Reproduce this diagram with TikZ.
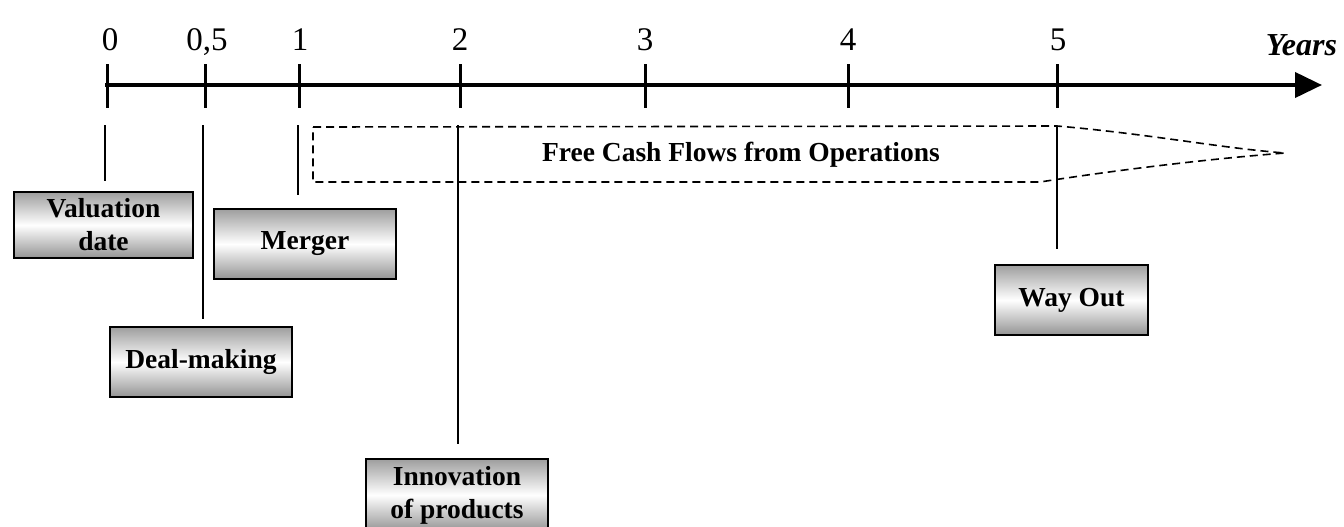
\documentclass[tikz,border=0pt]{standalone}
\usepackage{fontspec}
\setmainfont{Liberation Serif}
\usetikzlibrary{arrows.meta}

\begin{document}
\begin{tikzpicture}[
  x=0.5pt,y=-0.5pt,
  axis/.style={line width=2pt},
  tickmark/.style={line width=1.5pt},
  lnk/.style={line width=1pt},
  box/.style={draw=black,line width=1pt,top color=black!38,bottom color=black!42,middle color=white,
    align=center,inner sep=0pt,font=\fontsize{13.75}{16.5}\selectfont\bfseries},
  yr/.style={font=\fontsize{16.5}{18}\selectfont,anchor=base},
  flow/.style={draw=black,line width=0.8pt,dash pattern=on 4pt off 2.5pt},
]
\useasboundingbox (0,0) rectangle (1344,526);

% time axis
\coordinate (ax0) at (105,85);
\coordinate (ax1) at (1322,85);
\draw[axis,-{Triangle[length=13.5pt,width=12.5pt]}] (ax0) -- (ax1);
\draw[tickmark] (107,64) -- (107,108);
\node[yr] (y0) at (110,50) {0};
\draw[tickmark] (205,64) -- (205,108);
\node[yr] (y05) at (207,50) {0,5};
\draw[tickmark] (299,64) -- (299,108);
\node[yr] (y1) at (300,50) {1};
\draw[tickmark] (460,64) -- (460,108);
\node[yr] (y2) at (460,50) {2};
\draw[tickmark] (645,64) -- (645,108);
\node[yr] (y3) at (645,50) {3};
\draw[tickmark] (848,64) -- (848,108);
\node[yr] (y4) at (848,50) {4};
\draw[tickmark] (1057,64) -- (1057,108);
\node[yr] (y5) at (1058,50) {5};
\node[font=\fontsize{16}{18}\selectfont\bfseries\itshape,anchor=base east] (years) at (1344,55) {Years};

% cash flow band
\draw[flow] (313,127) -- (1057,126) .. controls (1150,134) and (1220,148) .. (1285,153)
  .. controls (1220,158) and (1130,168) .. (1040,182) -- (313,182) -- cycle;
\node[font=\fontsize{13.75}{16.5}\selectfont\bfseries] (fcf) at (741,155) {Free Cash Flows from Operations};

% events
\node[box,minimum width=89.5pt,minimum height=33pt] (val) at (103.5,225) {Valuation\\date};
\node[box,minimum width=91pt,minimum height=35pt] (deal) at (201,362) {Deal-making};
\node[box,minimum width=91pt,minimum height=35pt] (merger) at (305,244) {Merger};
\node[box,minimum width=91pt,minimum height=36pt] (innov) at (457,495) {Innovation\\of products};
\node[box,minimum width=76.5pt,minimum height=35pt] (wayout) at (1071.5,300) {Way Out};

\coordinate (d0) at (105,125);
\coordinate (d05) at (203,125);
\coordinate (d1) at (298,125);
\coordinate (d2) at (458,125);
\coordinate (d5) at (1057,126);
\draw[lnk,shorten >=5pt] (d0) -- (d0 |- val.north);
\draw[lnk,shorten >=3.5pt] (d05) -- (d05 |- deal.north);
\draw[lnk,shorten >=6.5pt] (d1) -- (d1 |- merger.north);
\draw[lnk,shorten >=7pt] (d2) -- (d2 |- innov.north);
\draw[lnk,shorten >=7.5pt] (d5) -- (d5 |- wayout.north);
\end{tikzpicture}
\end{document}
